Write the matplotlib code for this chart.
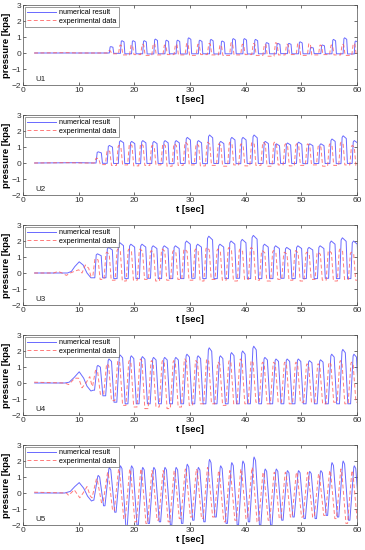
import matplotlib
matplotlib.use("Agg")
import matplotlib.pyplot as plt
import numpy as np

plt.rcParams['font.family'] = ['Liberation Sans', 'DejaVu Sans']

panel_names = ["U1", "U2", "U3", "U4", "U5"]
x_ticks = [0, 10, 20, 30, 40, 50, 60]
y_ticks = [-2, -1, 0, 1, 2, 3]
legend_labels = ["numerical result", "experimental data"]

# ---- early (pre-pulse) segments: (t, p) ----
num_early_t = {
    "U1": [2.1, 15.2],
    "U2": [2.1, 10.0, 12.9],
    "U3": [2.1, 8.0, 8.7, 9.3, 10.1, 10.8, 11.5, 12.2, 12.6],
    "U4": [2.1, 7.5, 8.3, 9.2, 10.1, 10.9, 11.5, 12.2, 12.6],
    "U5": [2.1, 7.5, 8.5, 9.3, 10.1, 10.9, 11.6, 12.3, 12.6],
}
num_early_p = {
    "U1": [0.0, 0.0],
    "U2": [0.0, 0.02, 0.0],
    "U3": [0.0, 0.0, 0.1, 0.4, 0.7, 0.5, 0.0, -0.3, -0.3],
    "U4": [0.0, 0.0, 0.05, 0.35, 0.7, 0.3, -0.2, -0.5, -0.45],
    "U5": [0.0, 0.0, 0.1, 0.4, 0.65, 0.3, -0.2, -0.5, -0.45],
}
exp_early_t = {
    "U1": [2.0, 8.0, 10.0, 14.9],
    "U2": [2.0, 8.0, 10.5, 12.4],
    "U3": [2.0, 5.5, 6.3, 7.0, 7.8, 8.5, 9.2, 10.0, 10.6, 11.2, 11.8, 12.2],
    "U4": [2.0, 7.5, 8.2, 9.3, 10.0, 10.6, 11.3, 12.0, 12.4],
    "U5": [2.0, 7.8, 8.2, 9.2, 10.2, 10.8, 11.5, 12.1, 12.4],
}
exp_early_p = {
    "U1": [0.0, 0.02, 0.0, 0.0],
    "U2": [0.0, 0.02, 0.0, 0.0],
    "U3": [0.0, 0.0, 0.1, 0.0, -0.15, 0.0, 0.1, 0.2, 0.0, 0.5, 0.3, -0.2],
    "U4": [0.05, 0.0, -0.1, 0.3, 0.3, -0.3, 0.0, 0.4, -0.2],
    "U5": [0.05, 0.0, -0.15, 0.2, -0.3, 0.0, 0.4, -0.2, -0.3],
}

# ---- pulse trains: first pulse time, period, per-cycle peak and trough ----
num_t0 = {"U1": 15.9, "U2": 13.7, "U3": 13.6, "U4": 13.6, "U5": 13.6}
exp_t0 = {"U1": 15.55, "U2": 13.35, "U3": 13.2, "U4": 13.2, "U5": 13.25}
num_period = 2.0
exp_period = 1.996

num_peaks = {
    "U1": [0.4, 0.77, 0.77, 0.77, 0.87, 0.8, 0.8, 0.95, 0.8, 0.85, 0.75, 0.9,
           0.9, 0.85, 0.65, 0.6, 0.6, 0.7, 0.35, 0.5, 0.85, 0.95, 0.75],
    "U2": [0.7, 1.1, 1.4, 1.35, 1.4, 1.35, 1.4, 1.4, 1.6, 1.4, 1.75, 1.35,
           1.6, 1.6, 1.75, 1.35, 1.2, 1.25, 1.3, 1.2, 1.2, 1.5, 1.7, 1.4],
    "U3": [1.2, 1.6, 1.9, 1.8, 1.8, 1.7, 1.7, 1.7, 2.0, 1.8, 2.3, 1.8,
           2.0, 2.1, 2.35, 1.8, 1.7, 1.6, 1.7, 1.6, 1.7, 2.0, 2.2, 2.0],
    "U4": [1.1, 1.5, 1.75, 1.7, 1.65, 1.6, 1.6, 1.6, 1.8, 1.7, 2.2, 1.7,
           1.9, 2.0, 2.3, 1.6, 1.5, 1.5, 1.5, 1.4, 1.45, 1.8, 2.1, 1.8],
    "U5": [1.1, 1.6, 1.7, 1.7, 1.6, 1.6, 1.6, 1.6, 1.8, 1.6, 2.1, 1.7,
           1.9, 2.0, 2.25, 1.5, 1.5, 1.4, 1.4, 1.35, 1.4, 1.9, 2.0, 1.7],
}
num_troughs = {
    "U1": [-0.02, -0.05, -0.05, -0.06, -0.05, -0.05, -0.06, -0.05, -0.05, -0.06, -0.05, -0.05,
           -0.06, -0.05, -0.05, -0.04, -0.05, -0.05, -0.04, -0.05, -0.05, -0.06, -0.05],
    "U2": [-0.02, -0.03, -0.03, -0.04, -0.03, -0.03, -0.04, -0.03, -0.03, -0.04, -0.03, -0.03,
           -0.04, -0.03, -0.03, -0.04, -0.03, -0.03, -0.04, -0.03, -0.03, -0.04, -0.03, -0.03],
    "U3": [-0.3, -0.35, -0.35, -0.35, -0.33, -0.35, -0.35, -0.35, -0.33, -0.35, -0.35, -0.35,
           -0.33, -0.35, -0.35, -0.35, -0.33, -0.35, -0.35, -0.35, -0.33, -0.35, -0.35, -0.35],
    "U4": [-0.8, -1.2, -1.3, -1.3, -1.3, -1.3, -1.3, -1.3, -1.3, -1.3, -1.3, -1.3,
           -1.3, -1.3, -1.3, -1.3, -1.3, -1.3, -1.3, -1.3, -1.3, -1.3, -1.3, -1.3],
    "U5": [-0.8, -1.2, -2.1, -2.0, -1.9, -1.8, -2.0, -1.9, -1.7, -1.8, -1.5, -1.9,
           -2.0, -1.8, -2.0, -2.0, -1.7, -1.5, -1.6, -1.6, -1.4, -1.5, -1.7, -1.6],
}
exp_peaks = {
    "U1": [0.15, 0.5, 0.5, 0.55, 0.6, 0.5, 0.55, 0.6, 0.55, 0.6, 0.5, 0.65,
           0.55, 0.6, 0.55, 0.65, 0.55, 0.6, 0.6, 0.5, 0.5, 0.55, 0.6],
    "U2": [0.3, 0.8, 1.1, 1.2, 1.2, 1.1, 1.2, 1.2, 1.3, 1.2, 1.3, 1.2,
           1.3, 1.2, 1.3, 1.3, 1.3, 1.2, 1.2, 1.2, 1.1, 1.2, 1.3, 1.1],
    "U3": [0.9, 1.3, 1.5, 1.5, 1.5, 1.4, 1.5, 1.4, 1.5, 1.5, 1.6, 1.5,
           1.6, 1.5, 1.6, 1.4, 1.4, 1.3, 1.4, 1.3, 1.3, 1.4, 1.5, 1.3],
    "U4": [0.8, 1.2, 1.4, 1.4, 1.5, 1.4, 1.4, 1.4, 1.5, 1.4, 1.5, 1.3,
           1.4, 1.5, 1.4, 1.3, 1.3, 1.3, 1.3, 1.2, 1.2, 1.3, 1.4, 1.3],
    "U5": [0.9, 1.3, 1.5, 1.5, 1.5, 1.4, 1.4, 1.4, 1.5, 1.5, 1.6, 1.4,
           1.4, 1.5, 1.6, 1.3, 1.3, 1.3, 1.3, 1.3, 1.2, 1.4, 1.5, 1.4],
}
exp_troughs = {
    "U1": [-0.05, -0.12, -0.1, -0.15, -0.12, -0.1, -0.12, -0.15, -0.1, -0.12, -0.15, -0.12,
           -0.1, -0.15, -0.2, -0.12, -0.1, -0.15, -0.12, -0.1, -0.12, -0.15, -0.1],
    "U2": [-0.1, -0.15, -0.12, -0.18, -0.15, -0.12, -0.2, -0.15, -0.12, -0.18, -0.15, -0.2,
           -0.12, -0.18, -0.15, -0.2, -0.12, -0.18, -0.15, -0.12, -0.2, -0.15, -0.12, -0.15],
    "U3": [-0.4, -0.45, -0.5, -0.45, -0.4, -0.5, -0.45, -0.4, -0.45, -0.5, -0.4, -0.45,
           -0.5, -0.4, -0.45, -0.5, -0.4, -0.45, -0.5, -0.4, -0.45, -0.5, -0.4, -0.45],
    "U4": [-0.7, -1.1, -1.4, -1.5, -1.6, -1.5, -1.6, -1.5, -1.4, -1.3, -1.3, -1.4,
           -1.3, -1.3, -1.2, -1.3, -1.2, -1.3, -1.2, -1.2, -1.3, -1.2, -1.3, -1.2],
    "U5": [-0.6, -1.1, -1.6, -1.8, -1.9, -1.7, -1.8, -1.6, -1.5, -1.6, -1.5, -1.8,
           -1.7, -1.6, -1.8, -1.7, -1.6, -1.5, -1.5, -1.5, -1.4, -1.6, -1.9, -1.6],
}

# pulse shape (style): top width, ramp duration  [s]
num_shape = {"U1": (0.5, 0.15), "U2": (0.75, 0.2), "U3": (0.9, 0.25),
             "U4": (0.6, 0.45), "U5": (0.35, 0.7)}
exp_shape = {"U1": (0.3, 0.25), "U2": (0.5, 0.3), "U3": (0.6, 0.35),
             "U4": (0.4, 0.5), "U5": (0.2, 0.75)}


def build_series(et, ep, t0, period, peaks, troughs, shape, t_end=60.5):
    top, ramp = shape
    ts = list(et)
    ps = list(ep)
    for k, (pk, tr) in enumerate(zip(peaks, troughs)):
        tc = t0 + k * period
        ts += [tc - top / 2 - ramp, tc - top / 2, tc - top / 4, tc + top / 2,
               tc + top / 2 + ramp]
        ps += [ps[-1], 0.94 * pk, pk, 0.9 * pk, tr]
    ts.append(t_end)
    ps.append(ps[-1])
    return np.array(ts), np.array(ps)


fig = plt.figure(figsize=(3.65, 5.5), dpi=100)
W, H = 365.0, 550.0
ax_left, ax_right = 23, 357
blue = '#4f4fff'
red = '#ff5a5a'
frame = '#4d4d4d'

for i, name in enumerate(panel_names):
    top_px = 5 + 110 * i
    bot_px = 85 + 110 * i
    ax = fig.add_axes([ax_left / W, 1 - bot_px / H, (ax_right - ax_left) / W,
                       (bot_px - top_px) / H])
    tn, pn = build_series(num_early_t[name], num_early_p[name], num_t0[name],
                          num_period, num_peaks[name], num_troughs[name],
                          num_shape[name])
    te, pe = build_series(exp_early_t[name], exp_early_p[name], exp_t0[name],
                          exp_period, exp_peaks[name], exp_troughs[name],
                          exp_shape[name])
    ax.plot(tn, pn, color=blue, lw=0.7, alpha=0.85, label=legend_labels[0])
    ax.plot(te, pe, color=red, lw=0.7, ls=(0, (4, 2.5)), alpha=0.8,
            label=legend_labels[1])
    ax.set_xlim(0, 60)
    ax.set_ylim(-2, 3)
    ax.set_xticks(x_ticks)
    ax.set_yticks(y_ticks)
    ax.tick_params(direction='in', length=2, width=0.5, labelsize=6,
                   colors='#333333', top=True, right=True, pad=1.5)
    for sp in ax.spines.values():
        sp.set_color(frame)
        sp.set_linewidth(0.5)
    ax.set_xlabel("t [sec]", fontsize=6.8, fontweight='bold', labelpad=1)
    ax.set_ylabel("pressure [kpa]", fontsize=6.8, fontweight='bold', labelpad=0.5)
    ax.text(2.2, -1.68, name, fontsize=5.8, color='#222222', va='center')
    leg = ax.legend(loc='upper left', fontsize=5.2, frameon=True, fancybox=False,
                    edgecolor=frame, handlelength=4.0, borderpad=0.3,
                    labelspacing=0.2, handletextpad=0.4, borderaxespad=0.3)
    leg.get_frame().set_linewidth(0.5)

fig.savefig("out.png", dpi=100)
